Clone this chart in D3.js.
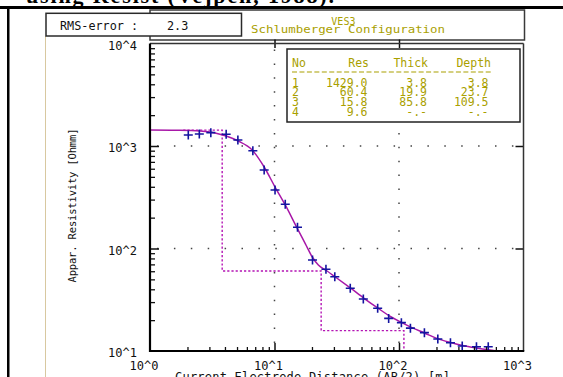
<!DOCTYPE html>
<html><head><meta charset="utf-8">
<script src="https://cdn.jsdelivr.net/npm/d3@7/dist/d3.min.js"></script>
<style>
html,body{margin:0;padding:0;background:#fff;}
svg{display:block;}
text{font-family:"DejaVu Sans Mono",monospace;}
</style></head>
<body>
<svg id="c" width="563" height="377"></svg>
<script>
// ---- data ----
const abData  = [2.03,2.49,3.08,4.09,5.08,6.70,8.26,10.1,12.2,15.3,20.2,25.9,30.5,40.6,51.7,67.4,82.6,104.5,123.5,160,205,259,322,419,521];
const rhoData = [1280,1310,1349,1301,1145,900,583,372,270,161,77.2,62.7,53.1,40.9,32.2,26.1,20.8,18.9,16.7,15.1,13.1,12.05,11.2,11.0,11.0];
const fitAB  = [1.0,1.74,2.53,3.33,4.09,5.11,6.62,8.26,10.1,12.2,15.2,17.7,20.1,22.5,26.1,30.8,40.6,52.7,68.3,85.3,104.5,128,160,204,259,324,419,524,654,1000];
const fitRho = [1429,1422,1400,1339,1252,1119,914,624,398,266,158,111,82.6,69.0,61.0,52.7,41.2,32.5,26.0,21.7,19.0,16.8,15.0,13.2,12.1,11.3,10.7,10.3,10.0,10.0];
const layerNo    = [1,2,3,4];
const layerRes   = [1429.0,60.4,15.8,9.6];
const layerThick = [3.8,19.9,85.8,null];
const layerDepth = [3.8,23.7,109.5,null];
const modelStartAB = 1.85;
const rmsError = 2.3;
const xTickValues = [1,10,100,1000];
const xTickLabels = ["10^0","10^1","10^2","10^3"];
const yTickValues = [10,100,1000,10000];
const yTickLabels = ["10^1","10^2","10^3","10^4"];
const titleLine1 = "VES3";
const titleLine2 = "Schlumberger Configuration";
const xTitle = "Current Electrode Distance (AB/2) [m]";
const yTitle = "Appar. Resistivity [Ohmm]";
const docText = "using Resist (Vejpen, 1988).";

// ---- setup ----
const svg = d3.select("#c");
const L=150, R=523.5, T=43.5, B=351;
const x = d3.scaleLog().domain([1,1000]).range([L,R]);
const y = d3.scaleLog().domain([10,10000]).range([B,T]);
const olive = "#a9a000", mag = "#a818a8", navy = "#1414a0";

// document fragments
svg.append("text").attr("x",26).attr("y",2.5).attr("textLength",308)
  .style("font-family","'Liberation Serif',serif").style("font-weight","bold").style("font-size","22px")
  .text(docText);
svg.append("rect").attr("x",0).attr("y",6).attr("width",563).attr("height",3).attr("fill","#000");
svg.append("rect").attr("x",7).attr("y",6).attr("width",2.5).attr("height",371).attr("fill","#000");
svg.append("line").attr("x1",45.5).attr("x2",45.5).attr("y1",36).attr("y2",377).attr("stroke","#d8c8a0").attr("stroke-width",1);

// header box
svg.append("rect").attr("x",150).attr("y",10).attr("width",374.5).attr("height",30)
  .attr("fill","#fff").attr("stroke","#3a3a3a").attr("stroke-width",1.5);
svg.append("rect").attr("x",46).attr("y",13.3).attr("width",195.5).attr("height",22.7)
  .attr("fill","#fff").attr("stroke","#2a2a2a").attr("stroke-width",1.5);
svg.append("text").attr("x",60).attr("y",29.5).style("font-size","11.8px").attr("fill","#111").text("RMS-error :");
svg.append("text").attr("x",167).attr("y",29.5).style("font-size","11.8px").attr("fill","#111").text(rmsError.toFixed(1));
svg.append("text").attr("x",343.4).attr("y",24.5).attr("text-anchor","middle").style("font-size","10px").attr("fill",olive).text(titleLine1);
svg.append("text").attr("x",251).attr("y",33).attr("textLength",194).attr("lengthAdjust","spacingAndGlyphs").style("font-size","11px").attr("fill",olive).text(titleLine2);

// plot background
svg.append("rect").attr("x",L).attr("y",T).attr("width",R-L).attr("height",B-T).attr("fill","#fff");

// grid dotted
const gridX=[10,100], gridY=[100,1000];
svg.selectAll(".gx").data(gridX).enter().append("line")
  .attr("x1",d=>x(d)).attr("x2",d=>x(d)).attr("y1",T).attr("y2",B)
  .attr("stroke","#444").attr("stroke-width",1.5).attr("stroke-dasharray","1.5,12.4").attr("stroke-dashoffset",-6);
svg.selectAll(".gy").data(gridY).enter().append("line")
  .attr("x1",L).attr("x2",R).attr("y1",d=>y(d)).attr("y2",d=>y(d))
  .attr("stroke","#444").attr("stroke-width",1.5).attr("stroke-dasharray","1.5,15.4").attr("stroke-dashoffset",-7);

// clip
svg.append("clipPath").attr("id","pc").append("rect").attr("x",L).attr("y",T).attr("width",R-L).attr("height",B-T+1);

// model step (dotted)
const step=[[modelStartAB,layerRes[0]]];
for(let i=0;i<layerDepth.length;i++){
  if(layerDepth[i]==null) break;
  step.push([layerDepth[i],layerRes[i]]);
  step.push([layerDepth[i],layerRes[i+1]]);
}
step.push([1000,layerRes[layerRes.length-1]]);
svg.append("path").attr("clip-path","url(#pc)")
  .attr("d",d3.line().x(d=>x(d[0])).y(d=>y(d[1]))(step))
  .attr("fill","none").attr("stroke","#b414b4").attr("stroke-width",1.4).attr("stroke-dasharray","2.2,2");

// fitted curve
svg.append("path").attr("clip-path","url(#pc)")
  .attr("d",d3.line().x((d,i)=>x(fitAB[i])).y((d,i)=>y(fitRho[i])).curve(d3.curveMonotoneX)(fitAB))
  .attr("fill","none").attr("stroke",mag).attr("stroke-width",1.5);

// data crosses
svg.selectAll(".pt").data(abData).enter().append("path")
  .attr("transform",(d,i)=>`translate(${x(d)},${y(rhoData[i])})`)
  .attr("d","M-4.5,0H4.5M0,-4.5V4.5").attr("stroke",navy).attr("stroke-width",1.6).attr("fill","none");

// ticks via axes
const minorX=[], minorY=[];
[1,10,100].forEach(d=>{for(let k=2;k<10;k++) minorX.push(d*k);});
[10,100,1000].forEach(d=>{for(let k=2;k<10;k++) minorY.push(d*k);});
function styleAxis(g,w){g.select(".domain").remove();g.selectAll("line").attr("stroke","#111").attr("stroke-width",w);}
svg.append("g").attr("transform",`translate(0,${B})`).call(d3.axisBottom(x).tickValues(minorX).tickSize(-4).tickFormat("")).call(g=>styleAxis(g,1.3));
svg.append("g").attr("transform",`translate(0,${B})`).call(d3.axisBottom(x).tickValues([10,100]).tickSize(-8).tickFormat("")).call(g=>styleAxis(g,1.5));
svg.append("g").attr("transform",`translate(${L},0)`).call(d3.axisLeft(y).tickValues(minorY).tickSize(-5).tickFormat("")).call(g=>styleAxis(g,1.3));
svg.append("g").attr("transform",`translate(${L},0)`).call(d3.axisLeft(y).tickValues([100,1000]).tickSize(-9).tickFormat("")).call(g=>styleAxis(g,1.5));
svg.append("g").attr("transform",`translate(${R},0)`).call(d3.axisRight(y).tickValues([100,1000]).tickSize(-8).tickFormat("")).call(g=>styleAxis(g,1.5));
svg.append("g").attr("transform",`translate(0,${T+4.5})`).call(d3.axisTop(x).tickValues([10,100]).tickSize(8.5).tickFormat("")).call(g=>styleAxis(g,1.5));

// frame
svg.append("line").attr("x1",L).attr("x2",R).attr("y1",T).attr("y2",T).attr("stroke","#333").attr("stroke-width",1.5);
svg.append("line").attr("x1",R).attr("x2",R).attr("y1",T).attr("y2",B).attr("stroke","#333").attr("stroke-width",1.5);
svg.append("line").attr("x1",L).attr("x2",L).attr("y1",T).attr("y2",B+1).attr("stroke","#000").attr("stroke-width",2.2);
svg.append("line").attr("x1",L).attr("x2",R+0.75).attr("y1",B).attr("y2",B).attr("stroke","#000").attr("stroke-width",2);

// tick labels
svg.selectAll(".xl").data(xTickValues).enter().append("text")
  .attr("x",d=>x(d)-6).attr("y",370).attr("text-anchor","middle").style("font-size","12px").attr("fill","#111")
  .text((d,i)=>xTickLabels[i]);
svg.selectAll(".yl").data(yTickValues).enter().append("text")
  .attr("x",137).attr("y",d=>y(d)+6).attr("text-anchor","end").style("font-size","12px").attr("fill","#111")
  .text((d,i)=>yTickLabels[i]);

// axis titles
svg.append("text").attr("x",175).attr("y",381).attr("textLength",275).style("font-size","12px").attr("fill","#111").text(xTitle);
svg.append("text").attr("transform","translate(75.5,205.5) rotate(-90)").attr("text-anchor","middle")
  .attr("textLength",154).style("font-size","10.5px").attr("fill","#111").text(yTitle);

// layer table
svg.append("rect").attr("x",287).attr("y",49).attr("width",233).attr("height",73)
  .attr("fill","#fff").attr("stroke","#222").attr("stroke-width",1.5);
const tfs="11.5px";
const hdrY=66.5;
svg.append("text").attr("x",292).attr("y",hdrY).style("font-size",tfs).attr("fill",olive).text("No");
svg.append("text").attr("x",369).attr("y",hdrY).attr("text-anchor","end").style("font-size",tfs).attr("fill",olive).text("Res");
svg.append("text").attr("x",428).attr("y",hdrY).attr("text-anchor","end").style("font-size",tfs).attr("fill",olive).text("Thick");
svg.append("text").attr("x",491).attr("y",hdrY).attr("text-anchor","end").style("font-size",tfs).attr("fill",olive).text("Depth");
svg.append("line").attr("x1",292).attr("x2",493).attr("y1",72).attr("y2",72).attr("stroke",olive).attr("stroke-width",1.2).attr("stroke-dasharray","5,2.45");
const fmt=v=>v==null?"-.-":v.toFixed(1);
const rowY=i=>86.5+i*9.8;
const rows=svg.selectAll(".row").data(layerNo).enter().append("g");
rows.append("text").attr("x",292).attr("y",(d,i)=>rowY(i)).style("font-size",tfs).attr("fill",olive).text(d=>d);
rows.append("text").attr("x",367.5).attr("y",(d,i)=>rowY(i)).attr("text-anchor","end").style("font-size",tfs).attr("fill",olive).text((d,i)=>fmt(layerRes[i]));
rows.append("text").attr("x",427).attr("y",(d,i)=>rowY(i)).attr("text-anchor","end").style("font-size",tfs).attr("fill",olive).text((d,i)=>fmt(layerThick[i]));
rows.append("text").attr("x",488.5).attr("y",(d,i)=>rowY(i)).attr("text-anchor","end").style("font-size",tfs).attr("fill",olive).text((d,i)=>fmt(layerDepth[i]));
</script>
</body></html>
